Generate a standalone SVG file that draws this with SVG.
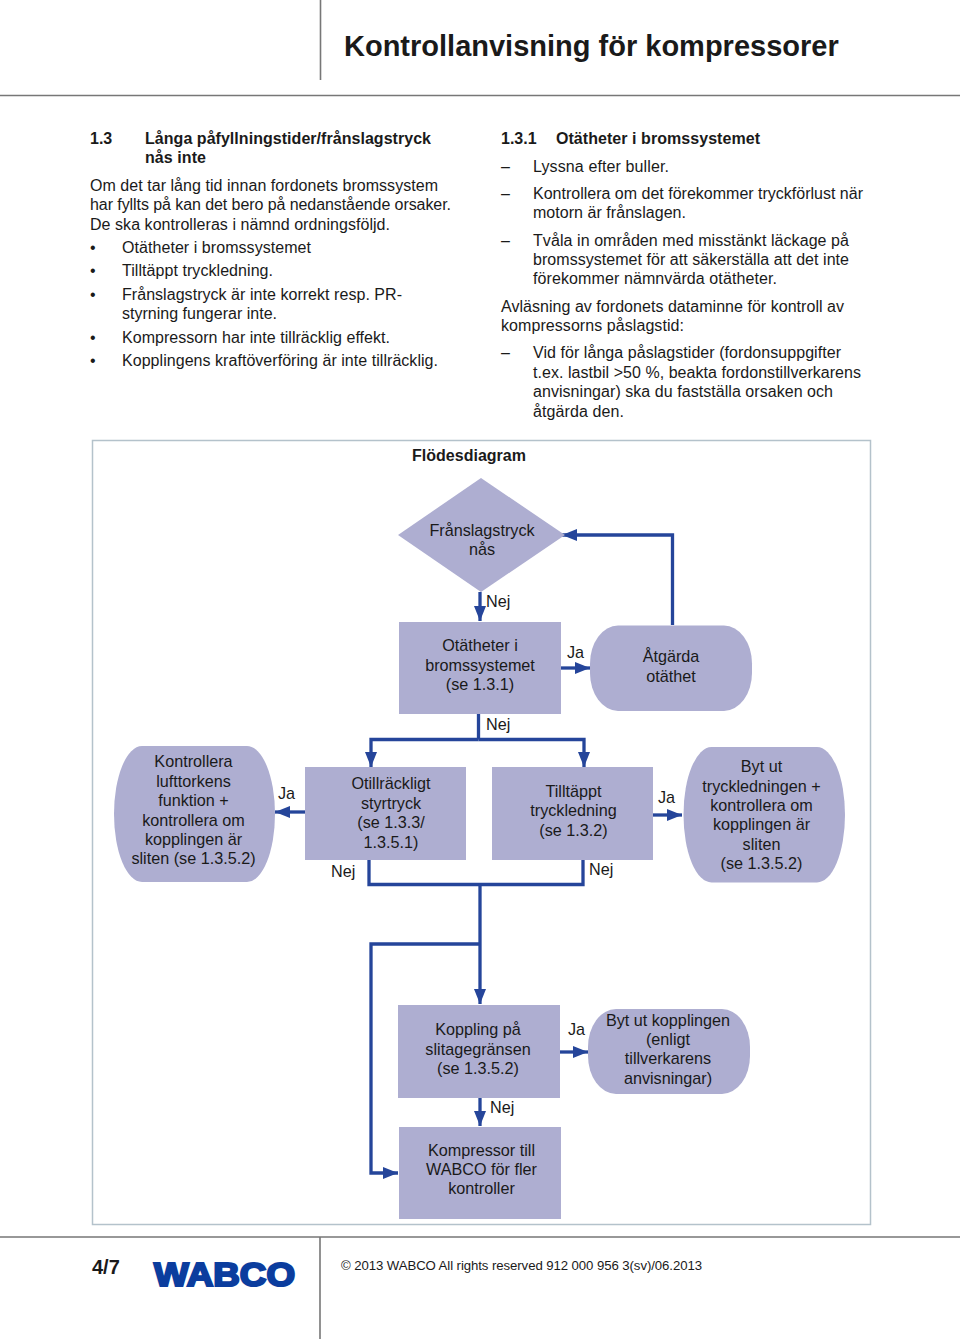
<svg xmlns="http://www.w3.org/2000/svg" width="960" height="1339" viewBox="0 0 960 1339">
<style>
text{font-family:"Liberation Sans",Arial,sans-serif;font-size:16.2px;fill:#1a1a1a}
#page text{font-size:16px}
.b{font-weight:bold}
.c{text-anchor:middle}
.n{fill:#aeaed1}
.rule{stroke:#777;stroke-width:1.6;fill:none}
.k{stroke:#25459a;stroke-width:3.300;fill:none}
.a{marker-end:url(#ah)}
</style>
<defs><marker id="ah" markerUnits="userSpaceOnUse" markerWidth="16" markerHeight="12" refX="15" refY="6" orient="auto"><path d="M0 0L15 6L0 12Z" fill="#25459a"/></marker></defs>
<rect width="960" height="1339" fill="#fff"/>
<g id="page">
<path class="rule" d="M0 95.5H960M320.500 0V80M0 1237H960M320 1237V1339"/>
<text class="b" x="344" y="56" style="font-size:29px">Kontrollanvisning för kompressorer</text>
<text class="b" x="90" y="144">1.3</text>
<text class="b" x="145" y="144" textLength="286">Långa påfyllningstider/frånslagstryck</text>
<text class="b" x="145" y="163" textLength="61">nås inte</text>
<text x="90" y="191" textLength="348">Om det tar lång tid innan fordonets bromssystem</text>
<text x="90" y="210" textLength="361">har fyllts på kan det bero på nedanstående orsaker.</text>
<text x="90" y="230" textLength="300">De ska kontrolleras i nämnd ordningsföljd.</text>
<text x="90" y="253">•</text><text x="122" y="253" textLength="189">Otätheter i bromssystemet</text>
<text x="90" y="276">•</text><text x="122" y="276" textLength="151">Tilltäppt tryckledning.</text>
<text x="90" y="300">•</text><text x="122" y="300" textLength="280">Frånslagstryck är inte korrekt resp. PR-</text>
<text x="122" y="319" textLength="155">styrning fungerar inte.</text>
<text x="90" y="343">•</text><text x="122" y="343" textLength="268">Kompressorn har inte tillräcklig effekt.</text>
<text x="90" y="366">•</text><text x="122" y="366" textLength="316">Kopplingens kraftöverföring är inte tillräcklig.</text>
<text class="b" x="501" y="144">1.3.1</text>
<text class="b" x="556" y="144" textLength="204">Otätheter i bromssystemet</text>
<text x="501" y="172">–</text><text x="533" y="172" textLength="136">Lyssna efter buller.</text>
<text x="501" y="199">–</text><text x="533" y="199" textLength="330">Kontrollera om det förekommer tryckförlust när</text>
<text x="533" y="218" textLength="153">motorn är frånslagen.</text>
<text x="501" y="246">–</text><text x="533" y="246" textLength="316">Tvåla in områden med misstänkt läckage på</text>
<text x="533" y="265" textLength="316">bromssystemet för att säkerställa att det inte</text>
<text x="533" y="284" textLength="244">förekommer nämnvärda otätheter.</text>
<text x="501" y="312" textLength="343">Avläsning av fordonets dataminne för kontroll av</text>
<text x="501" y="331" textLength="183">kompressorns påslagstid:</text>
<text x="501" y="358">–</text><text x="533" y="358" textLength="308">Vid för långa påslagstider (fordonsuppgifter</text>
<text x="533" y="378" textLength="328">t.ex. lastbil &gt;50 %, beakta fordonstillverkarens</text>
<text x="533" y="397" textLength="300">anvisningar) ska du fastställa orsaken och</text>
<text x="533" y="417" textLength="91">åtgärda den.</text>
<rect x="92.500" y="440.500" width="778" height="784" fill="none" stroke="#b4c2cb" stroke-width="1.500"/>
<text class="b" x="412" y="461" textLength="114">Flödesdiagram</text>
<text class="b" x="92" y="1274" style="font-size:20px">4/7</text>
<text class="b" x="154" y="1286" textLength="141" lengthAdjust="spacingAndGlyphs" style="font-size:33px;fill:#0b3d9e;stroke:#0b3d9e;stroke-width:2.200">WABCO</text>
<text x="341" y="1270" textLength="361" style="font-size:13.200px">© 2013 WABCO All rights reserved  912 000 956 3(sv)/06.2013</text>
</g>
<g id="connectors">
<path class="k a" d="M480 592V621"/>
<path class="k a" d="M561 668H590"/>
<path class="k a" d="M672.500 625V535H562"/>
<path class="k" d="M478.500 714V739.500"/>
<path class="k a" d="M478.500 739.500H371V767"/>
<path class="k a" d="M478.500 739.500H584V767"/>
<path class="k a" d="M305 812H275"/>
<path class="k a" d="M653 815H682"/>
<path class="k" d="M369 860V884.500H583V859"/>
<path class="k a" d="M480 884.500V1004"/>
<path class="k a" d="M480 944H371V1173H398"/>
<path class="k a" d="M560 1052H588"/>
<path class="k a" d="M480 1098V1126"/>
</g>
<g id="n1"><path class="n" d="M481 478L565 535L481 592L398 535Z"/><text class="c" x="482" y="536">Frånslagstryck</text><text class="c" x="482" y="555">nås</text></g>
<g id="n2"><rect class="n" x="399" y="622" width="162" height="92"/><text class="c" x="480" y="651">Otätheter i</text><text class="c" x="480" y="671">bromssystemet</text><text class="c" x="480" y="690">(se 1.3.1)</text></g>
<g id="n3"><rect class="n" x="590" y="625.500" width="162" height="85.500" rx="28" ry="38"/><text class="c" x="671" y="662">Åtgärda</text><text class="c" x="671" y="682">otäthet</text></g>
<g id="n4"><rect class="n" x="114" y="746" width="161" height="136" rx="28" ry="68"/><text class="c" x="193.500" y="767">Kontrollera</text><text class="c" x="193.500" y="787">lufttorkens</text><text class="c" x="193.500" y="806">funktion +</text><text class="c" x="193.500" y="826">kontrollera om</text><text class="c" x="193.500" y="845">kopplingen är</text><text class="c" x="193.500" y="864">sliten (se 1.3.5.2)</text></g>
<g id="n5"><rect class="n" x="305" y="767" width="161" height="93"/><text class="c" x="391" y="789">Otillräckligt</text><text class="c" x="391" y="809">styrtryck</text><text class="c" x="391" y="828">(se 1.3.3/</text><text class="c" x="391" y="848">1.3.5.1)</text></g>
<g id="n6"><rect class="n" x="492" y="767" width="161" height="93"/><text class="c" x="573.500" y="797">Tilltäppt</text><text class="c" x="573.500" y="816">tryckledning</text><text class="c" x="573.500" y="836">(se 1.3.2)</text></g>
<g id="n7"><rect class="n" x="683.500" y="747" width="161.500" height="135.500" rx="28" ry="68"/><text class="c" x="761.500" y="772">Byt ut</text><text class="c" x="761.500" y="792">tryckledningen +</text><text class="c" x="761.500" y="811">kontrollera om</text><text class="c" x="761.500" y="830">kopplingen är</text><text class="c" x="761.500" y="850">sliten</text><text class="c" x="761.500" y="869">(se 1.3.5.2)</text></g>
<g id="n8"><rect class="n" x="398" y="1005" width="162" height="93"/><text class="c" x="478" y="1035">Koppling på</text><text class="c" x="478" y="1055">slitagegränsen</text><text class="c" x="478" y="1074">(se 1.3.5.2)</text></g>
<g id="n9"><rect class="n" x="588" y="1009" width="162" height="85" rx="28" ry="38"/><text class="c" x="668" y="1026">Byt ut kopplingen</text><text class="c" x="668" y="1045">(enligt</text><text class="c" x="668" y="1064">tillverkarens</text><text class="c" x="668" y="1084">anvisningar)</text></g>
<g id="n10"><rect class="n" x="399" y="1127" width="162" height="92"/><text class="c" x="481.500" y="1156">Kompressor till</text><text class="c" x="481.500" y="1175">WABCO för fler</text><text class="c" x="481.500" y="1194">kontroller</text></g>
<g id="labels">
<text x="486" y="607">Nej</text><text x="486" y="730">Nej</text><text x="567" y="658">Ja</text><text x="278" y="799">Ja</text><text x="658" y="803">Ja</text><text x="331" y="877">Nej</text><text x="589" y="875">Nej</text><text x="568" y="1035">Ja</text><text x="490" y="1113">Nej</text>
</g>
</svg>
